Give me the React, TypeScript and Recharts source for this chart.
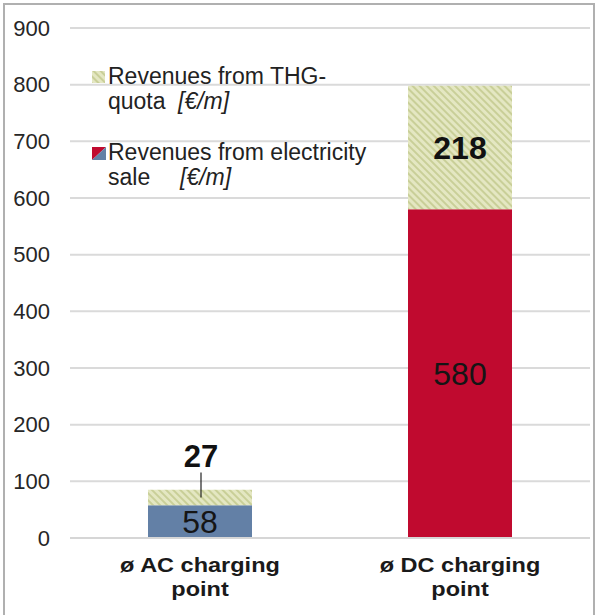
import { BarChart, Bar, XAxis, YAxis, CartesianGrid, Cell, LabelList, Legend } from "recharts";

const categories = ["ø AC charging point", "ø DC charging point"];
const electricitySale = [58, 580];
const thgQuota = [27, 218];
const yTicks = [0, 100, 200, 300, 400, 500, 600, 700, 800, 900];
const saleColors = ["#6380a6", "#c00a2f"];

const data = categories.map((name, i) => ({
  name,
  sale: electricitySale[i],
  thg: thgQuota[i],
}));

const FONT = "'Liberation Sans', Arial, sans-serif";

const CategoryTick = (props: any) => {
  const { x, y, payload } = props;
  const words = String(payload.value).split(" ");
  const first = words.slice(0, 3).join(" ");
  const second = words.slice(3).join(" ");
  return (
    <g transform={`translate(${x},${y}) scale(1.12,1)`}>
      <text x={0} y={0} textAnchor="middle" fontFamily={FONT} fontSize={21} fontWeight="bold" fill="#1a1a1a">
        <tspan x={0} dy={26}>{first}</tspan>
        <tspan x={0} dy={24}>{second}</tspan>
      </text>
    </g>
  );
};

const SaleLabel = (props: any) => {
  const { x, y, width, height, value } = props;
  return (
    <text
      x={x + width / 2}
      y={y + height / 2}
      dy="0.36em"
      textAnchor="middle"
      fontFamily={FONT}
      fontSize={32}
      fill="#151515"
    >
      {value}
    </text>
  );
};

const ThgLabel = (props: any) => {
  const { x, y, width, height, value } = props;
  const cx = x + width / 2;
  if (height < 40) {
    const mid = y + height / 2;
    return (
      <g>
        <line x1={cx + 1} x2={cx + 1} y1={mid} y2={mid - 25} stroke="#222" strokeWidth={1.2} />
        <text x={cx + 1} y={mid - 30} textAnchor="middle" fontFamily={FONT} fontSize={31} fontWeight="bold" fill="#111">
          {value}
        </text>
      </g>
    );
  }
  return (
    <text
      x={cx}
      y={y + height / 2}
      dy="0.36em"
      textAnchor="middle"
      fontFamily={FONT}
      fontSize={32}
      fontWeight="bold"
      fill="#111"
    >
      {value}
    </text>
  );
};

const LegendBox = () => (
  <svg width={420} height={200} style={{ overflow: "visible", display: "block" }}>
    <rect x={92} y={71} width={13} height={12} fill="url(#thgHatch)" />
    <text fontFamily={FONT} fontSize={23} fill="#222">
      <tspan x={108} y={84}>Revenues from THG-</tspan>
      <tspan x={108} y={109}>quota</tspan>
      <tspan x={178} y={109} fontStyle="italic">[€/m]</tspan>
    </text>
    <polygon points="92,147 106,147 92,160" fill={saleColors[1]} />
    <polygon points="106,147 106,160 92,160" fill={saleColors[0]} />
    <text fontFamily={FONT} fontSize={23} fill="#222">
      <tspan x={108} y={160}>Revenues from electricity</tspan>
      <tspan x={108} y={185}>sale</tspan>
      <tspan x={180} y={185} fontStyle="italic">[€/m]</tspan>
    </text>
  </svg>
);

export default function App() {
  return (
    <div style={{ position: "relative", width: 597, height: 615, background: "#fff" }}>
      <style>{"body{margin:0}"}</style>
      <div
        style={{
          position: "absolute",
          left: 3,
          top: 3,
          width: 592,
          height: 612,
          borderLeft: "2px solid #b0b0b0",
          borderTop: "2px solid #b0b0b0",
          borderRight: "2px solid #b0b0b0",
          boxSizing: "border-box",
          pointerEvents: "none",
          zIndex: 2,
        }}
      />
      <BarChart
        width={597}
        height={615}
        data={data}
        margin={{ top: 28, right: 7, bottom: 0, left: 0 }}
        barSize={104}
      >
        <defs>
          <pattern id="thgHatch" patternUnits="userSpaceOnUse" width={5} height={5} patternTransform="rotate(-45)">
            <rect width={5} height={5} fill="#e4e7c2" />
            <rect width={2} height={5} fill="#c9cf98" />
          </pattern>
        </defs>
        <CartesianGrid vertical={false} stroke="#dadada" strokeWidth={2} />
        <XAxis
          dataKey="name"
          height={77}
          tick={<CategoryTick />}
          tickLine={false}
          axisLine={{ stroke: "#d6d6d6", strokeWidth: 2 }}
          interval={0}
        />
        <YAxis
          width={70}
          domain={[0, 900]}
          ticks={yTicks}
          axisLine={false}
          tickLine={false}
          tickMargin={14}
          tick={{ fontFamily: FONT, fontSize: 22, fill: "#262626" }}
        />
        <Legend
          layout="horizontal"
          verticalAlign="middle"
          align="center"
          content={<LegendBox />}
          wrapperStyle={{ position: "absolute", left: 0, top: 0, width: 420, height: 200 }}
        />
        <Bar dataKey="sale" stackId="a" isAnimationActive={false} name="Revenues from electricity sale">
          {data.map((_, i) => (
            <Cell key={`sale-${i}`} fill={saleColors[i]} />
          ))}
          <LabelList dataKey="sale" content={<SaleLabel />} />
        </Bar>
        <Bar dataKey="thg" stackId="a" fill="url(#thgHatch)" isAnimationActive={false} name="Revenues from THG-quota">
          <LabelList dataKey="thg" content={<ThgLabel />} />
        </Bar>
      </BarChart>
    </div>
  );
}
